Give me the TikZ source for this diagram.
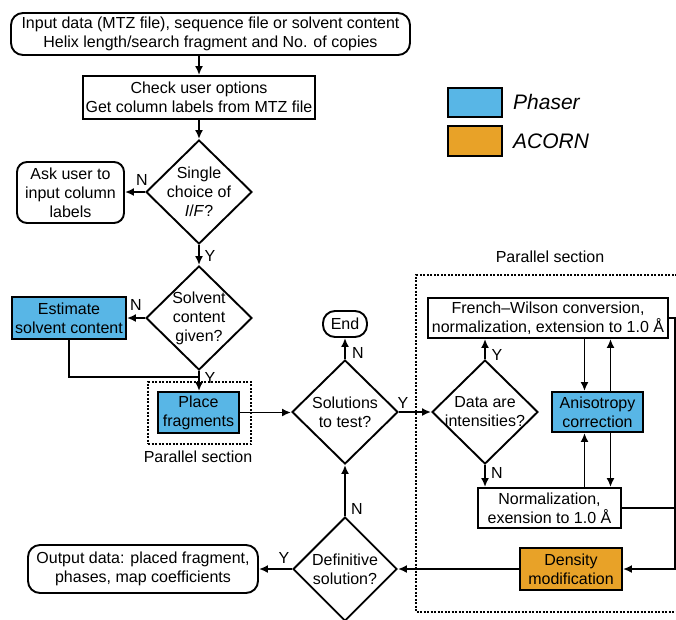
\documentclass[tikz,border=0pt]{standalone}
\usepackage{fontspec}
\setmainfont{Liberation Sans}
\usetikzlibrary{shapes.geometric,arrows.meta}
\definecolor{phaserblue}{RGB}{88,182,230}
\definecolor{acornorange}{RGB}{232,162,40}
\begin{document}
\begin{tikzpicture}[x=1pt,y=-1pt,
  every node/.style={font=\fontsize{16}{19}\selectfont},
  box/.style={draw, line width=1.9pt, align=center, inner sep=0pt},
  rbox/.style={box, rounded corners=12pt},
  dia/.style={draw, line width=1.9pt, shape=diamond, inner sep=0pt, minimum width=106pt, minimum height=104pt},
  arr/.style={line width=1.9pt, -{Latex[length=9pt,width=8pt]}},
  ln/.style={line width=1.9pt},
  lbl/.style={inner sep=0pt},
  dotbox/.style={line width=1.3pt, dash pattern=on 2pt off 1.5pt},
  legtxt/.style={anchor=west, inner sep=0pt, font=\fontsize{21}{24}\selectfont\itshape}
]
\useasboundingbox (0,0) rectangle (676,619);

% nodes
\node[rbox, minimum width=399pt, minimum height=42pt] (input) at (210.5,34)
  {Input data (MTZ file), sequence file or solvent content\\Helix length/search fragment and No. of copies};
\node[box, minimum width=232pt, minimum height=43pt] (check) at (199,97.5)
  {Check user options\\Get column labels from MTZ file};
\node[dia, label={[align=center]center:Single\\choice of\\\textit{I}/\textit{F}?}] (single) at (199,192) {};
\node[rbox, rounded corners=10pt, minimum width=107pt, minimum height=61pt] (ask) at (70.5,192.5)
  {Ask user to\\input column\\labels};
\node[dia, label={[align=center]center:Solvent\\content\\given?}] (solvent) at (199,318) {};
\node[box, fill=phaserblue, minimum width=114pt, minimum height=42pt] (estimate) at (69,318)
  {Estimate\\solvent content};
\node[box, fill=phaserblue, minimum width=81pt, minimum height=41pt] (place) at (198.5,412.5)
  {Place\\fragments};
\node[draw, dotbox, minimum width=103pt, minimum height=62pt] (par1box) at (199.5,413) {};
\node (par1) at (198,457) {Parallel section};

\node[dia, label={[align=center]center:Solutions\\to test?}] (sol) at (345,412) {};
\node[rbox, rounded corners=12pt, minimum width=44pt, minimum height=26pt] (end) at (345,324) {End};
\node[dia, label={[align=center]center:Data are\\intensities?}] (data) at (485,412) {};
\node[box, minimum width=240pt, minimum height=40pt] (fw) at (548,318)
  {French–Wilson conversion,\\normalization, extension to 1.0 Å};
\node[box, fill=phaserblue, minimum width=91pt, minimum height=40pt] (aniso) at (597.5,412)
  {Anisotropy\\correction};
\node[box, minimum width=143pt, minimum height=40pt] (norm) at (549.5,508)
  {Normalization,\\exension to 1.0 Å};
\node[box, fill=acornorange, minimum width=102pt, minimum height=42pt] (dens) at (571,569)
  {Density\\modification};
\node[dia, minimum width=104pt, label={[align=center]center:Definitive\\solution?}] (def) at (345,569) {};
\node[rbox, minimum width=230pt, minimum height=48pt] (out) at (143,569)
  {Output data: placed fragment,\\phases, map coefficients};

\node (par2) at (550,257) {Parallel section};
\draw[dotbox] (677,275) -- (416,275) -- (416,612) -- (677,612);

% legend
\node[box, fill=phaserblue, minimum width=54pt, minimum height=29pt] (legp) at (475,102.5) {};
\node[box, fill=acornorange, minimum width=54pt, minimum height=30pt] (lega) at (475,141) {};
\node[legtxt] (legpt) at (513,102) {Phaser};
\node[legtxt] (legat) at (513,141) {ACORN};

% connectors
\draw[arr] (input.south -| check.north) -- (check.north);
\draw[arr] (check) -- (single);
\draw[arr] (single.west) -- (single.west -| ask.east);
\draw[arr] (single) -- (solvent);
\draw[arr] (solvent.west) -- (solvent.west -| estimate.east);
\coordinate (j1) at (199,377);
\draw[ln] (estimate.south) |- (j1);
\draw[arr] (solvent.south) -- (solvent.south |- place.north);
\draw[arr] (place.east) -- (place.east -| sol.west);
\draw[arr] (sol) -- (end);
\draw[arr] (sol) -- (data);
\draw[arr] (data.north) -- (data.north |- fw.south);
\draw[arr] (data.south) -- (data.south |- norm.north);
\draw[arr] ([xshift=-13pt]aniso.north |- fw.south) -- ([xshift=-13pt]aniso.north);
\draw[arr] ([xshift=13pt]aniso.north) -- ([xshift=13pt]aniso.north |- fw.south);
\draw[arr] ([xshift=13pt]aniso.south) -- ([xshift=13pt]aniso.south |- norm.north);
\draw[arr] ([xshift=-13pt]aniso.south |- norm.north) -- ([xshift=-13pt]aniso.south);
\coordinate (rb) at (675,569);
\draw[arr] (fw.east) -| (rb) -- (dens.east);
\draw[ln] (norm.east) -- (norm.east -| rb);
\draw[arr] (dens) -- (def);
\draw[arr] (def) -- (sol);
\draw[arr] (def) -- (out);

% Y/N labels
\node[lbl] (l1) at (142,180) {N};
\node[lbl] (l2) at (210,256) {Y};
\node[lbl] (l3) at (136,305) {N};
\node[lbl] (l4) at (210,378) {Y};
\node[lbl] (l5) at (358,353) {N};
\node[lbl] (l6) at (403,403) {Y};
\node[lbl] (l7) at (497,355) {Y};
\node[lbl] (l8) at (497,473) {N};
\node[lbl] (l9) at (357,509) {N};
\node[lbl] (l10) at (284,558) {Y};
\end{tikzpicture}
\end{document}
